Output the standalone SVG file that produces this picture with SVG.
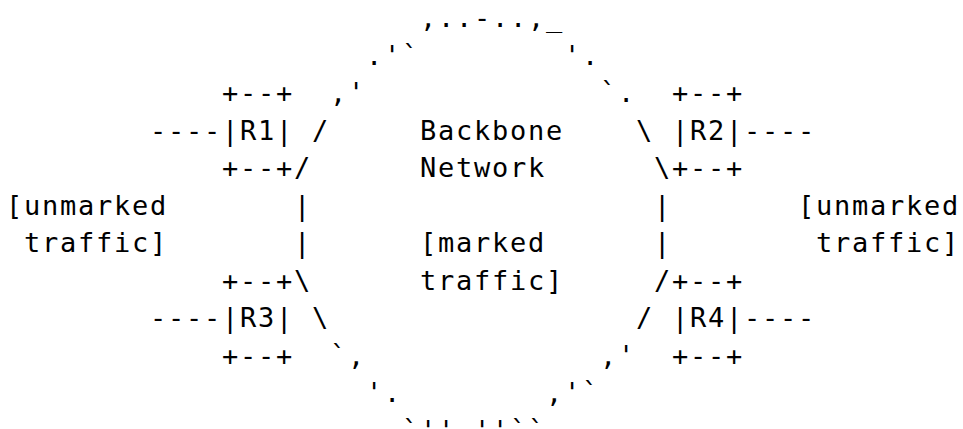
<svg xmlns="http://www.w3.org/2000/svg" width="963" height="429" viewBox="0 0 963 429">
  <style>
    text { font-family: "DejaVu Sans Mono", "Liberation Mono", monospace; font-size: 27px; letter-spacing: 1.74px; fill: #000; white-space: pre; }
  </style>
  <rect width="963" height="429" fill="#fff"/>
  <!-- grid: column c starts at x = 5 + 18c, row r baseline at y = 27 + 37.5r -->
  <g transform="translate(1,0)">

  <!-- backbone ring drawn with punctuation characters -->
  <g id="backbone">
    <text x="419" y="27">,..-..,_</text>
    <text x="365" y="64.5">.'`</text>
    <text x="563" y="64.5">'.</text>
    <text x="329" y="102">,'</text>
    <text x="599" y="102">`.</text>
    <text x="311" y="139.5">/</text>
    <text x="635" y="139.5">\</text>
    <text x="293" y="177">/</text>
    <text x="653" y="177">\</text>
    <text x="293" y="214.5">|</text>
    <text x="653" y="214.5">|</text>
    <text x="293" y="252">|</text>
    <text x="653" y="252">|</text>
    <text x="293" y="289.5">\</text>
    <text x="653" y="289.5">/</text>
    <text x="311" y="327">\</text>
    <text x="635" y="327">/</text>
    <text x="329" y="364.5">`,</text>
    <text x="599" y="364.5">,'</text>
    <text x="365" y="402">'.</text>
    <text x="545" y="402">,'`</text>
    <text x="401" y="439.5" xml:space="preserve">`'' ''``</text>
    <text x="419" y="139.5">Backbone</text>
    <text x="419" y="177">Network</text>
    <text x="419" y="252">[marked</text>
    <text x="419" y="289.5">traffic]</text>
  </g>

  <!-- edge routers -->
  <g id="R1">
    <text x="221" y="102">+--+</text>
    <text x="221" y="139.5">|R1|</text>
    <text x="221" y="177">+--+</text>
  </g>
  <g id="R2">
    <text x="671" y="102">+--+</text>
    <text x="671" y="139.5">|R2|</text>
    <text x="671" y="177">+--+</text>
  </g>
  <g id="R3">
    <text x="221" y="289.5">+--+</text>
    <text x="221" y="327">|R3|</text>
    <text x="221" y="364.5">+--+</text>
  </g>
  <g id="R4">
    <text x="671" y="289.5">+--+</text>
    <text x="671" y="327">|R4|</text>
    <text x="671" y="364.5">+--+</text>
  </g>

  <!-- unmarked traffic sources -->
  <g id="left-traffic">
    <text x="5" y="214.5">[unmarked</text>
    <text x="23" y="252">traffic]</text>
  </g>
  <g id="right-traffic">
    <text x="797" y="214.5">[unmarked</text>
    <text x="815" y="252">traffic]</text>
  </g>

  <!-- access links into the routers -->
  <g id="connectors">
    <text x="149" y="139.5">----</text>
    <text x="743" y="139.5">----</text>
    <text x="149" y="327">----</text>
    <text x="743" y="327">----</text>
  </g>
  </g>
</svg>
